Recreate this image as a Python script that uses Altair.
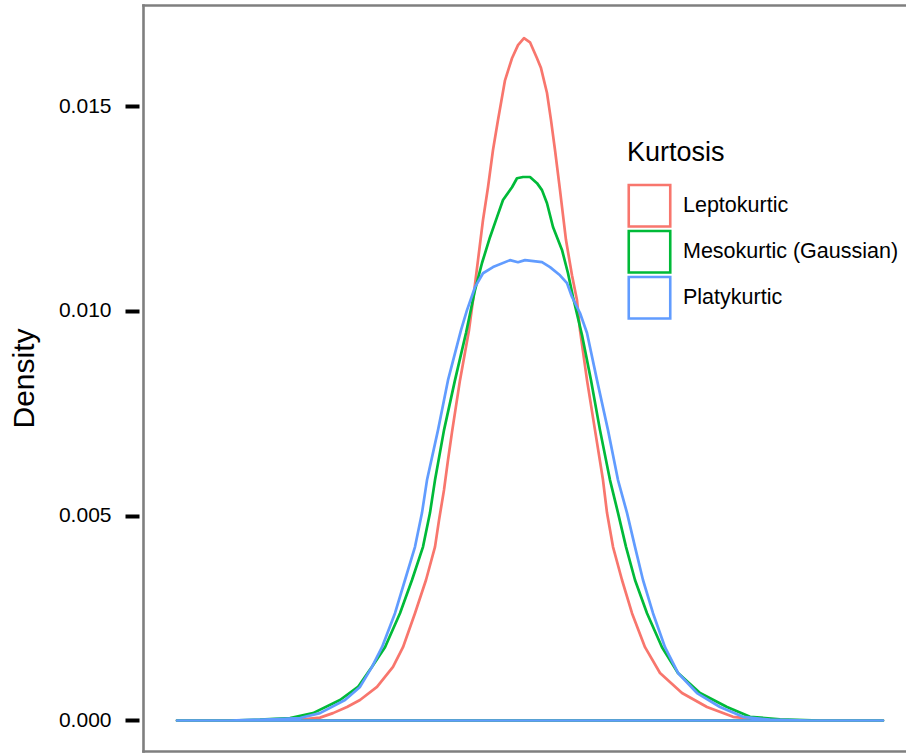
import altair as alt
import pandas as pd

series = ["Leptokurtic", "Mesokurtic (Gaussian)", "Platykurtic"]
colors = ["#F8766D", "#00BA38", "#619CFF"]
y_ticks = [0.0, 0.005, 0.010, 0.015]

lepto_x = [-347, -264, -224, -204, -191, -177, -164, -147, -131, -121,
           -109, -98, -89, -85, -80, -76, -72, -64, -55, -51,
           -46, -41, -36, -31, -26, -19, -12, -6, 0, 6,
           13, 17, 23, 27, 31, 36, 42, 48, 53, 56,
           63, 71, 79, 83, 89, 98, 108, 121, 136, 158,
           183, 209, 236, 276, 359]
lepto_y = [0, 0, 0.00002, 0.00007, 0.00018, 0.00033, 0.00050, 0.00082, 0.00131, 0.00179,
           0.00262, 0.00343, 0.00424, 0.00489, 0.00563, 0.00636, 0.00704, 0.00831, 0.00953, 0.01026,
           0.01124, 0.01222, 0.01302, 0.01393, 0.01466, 0.01563, 0.01617, 0.01649, 0.01666, 0.01656,
           0.01617, 0.01593, 0.01532, 0.01466, 0.01393, 0.01295, 0.01173, 0.01087, 0.01026, 0.00953,
           0.00831, 0.00709, 0.00587, 0.00507, 0.00424, 0.00343, 0.00262, 0.00179, 0.00116, 0.00067,
           0.00033, 0.00009, 0.00002, 0, 0]

meso_x = [-347, -294, -264, -234, -211, -184, -166, -152, -139, -124,
          -112, -101, -94, -89, -80, -69, -58, -49, -42, -34,
          -27, -21, -12, -7, -1, 6, 13, 18, 23, 29,
          38, 44, 49, 58, 67, 76, 86, 94, 102, 111,
          123, 138, 154, 176, 203, 226, 256, 296, 359]
meso_y = [0, 0, 0.00002, 0.00006, 0.00018, 0.00050, 0.00082, 0.00131, 0.00179, 0.00262,
          0.00343, 0.00424, 0.00507, 0.00587, 0.00709, 0.00831, 0.00946, 0.01051, 0.01117, 0.01180,
          0.01229, 0.01271, 0.01302, 0.01324, 0.01327, 0.01327, 0.01312, 0.01295, 0.01263, 0.01205,
          0.01149, 0.01092, 0.01034, 0.00941, 0.00831, 0.00709, 0.00587, 0.00507, 0.00424, 0.00343,
          0.00262, 0.00179, 0.00116, 0.00067, 0.00033, 0.00009, 0.00003, 0, 0]

platy_x = [-347, -294, -254, -224, -204, -179, -164, -152, -142, -129,
           -119, -109, -102, -97, -86, -76, -63, -57, -49, -41,
           -31, -14, -6, 1, 18, 26, 36, 43, 48, 56,
           63, 73, 84, 94, 103, 111, 119, 129, 141, 154,
           173, 196, 219, 246, 286, 359]
platy_y = [0, 0, 0.00003, 0.00006, 0.00018, 0.00050, 0.00082, 0.00131, 0.00179, 0.00262,
           0.00343, 0.00424, 0.00507, 0.00587, 0.00709, 0.00831, 0.00953, 0.01002, 0.01058, 0.01092,
           0.01107, 0.01124, 0.01119, 0.01124, 0.01119, 0.01107, 0.01087, 0.01068, 0.01034, 0.00995,
           0.00946, 0.00831, 0.00709, 0.00587, 0.00507, 0.00424, 0.00343, 0.00262, 0.00179, 0.00116,
           0.00067, 0.00033, 0.00009, 0.00002, 0, 0]

rows = []
for name, xs, ys in zip(series, [lepto_x, meso_x, platy_x], [lepto_y, meso_y, platy_y]):
    for xv, yv in zip(xs, ys):
        rows.append({"Kurtosis": name, "value": xv, "density": yv})
df = pd.DataFrame(rows)

FONT = "Liberation Sans"
GRAY = "#7f7f7f"

x_scale = alt.Scale(domain=[-381, 382], nice=False, zero=False)
y_scale = alt.Scale(domain=[-0.000745, 0.01747], nice=False, zero=False)

curves = alt.Chart(df).mark_area(
    fill="transparent", strokeWidth=2.7, interpolate="linear", strokeJoin="round"
).encode(
    x=alt.X("value:Q", scale=x_scale,
            axis=alt.Axis(orient="bottom", title=None, labels=False, ticks=False, grid=False,
                          domain=True, domainColor=GRAY, domainWidth=2.6, domainCap="square")),
    y=alt.Y("density:Q", scale=y_scale, stack=None,
            axis=alt.Axis(orient="left", title="Density", values=y_ticks, format=".3f",
                          grid=False, domain=False, ticks=True, tickSize=14, tickWidth=4,
                          tickColor="black", offset=4, labelFontSize=21, labelColor="black",
                          labelPadding=14, labelFont=FONT, titleFont=FONT, titleFontSize=30,
                          titleFontWeight="normal", titleColor="black", titlePadding=19)),
    stroke=alt.Stroke("Kurtosis:N", sort=series,
                      scale=alt.Scale(domain=series, range=colors),
                      legend=alt.Legend(orient="none", legendX=484, legendY=135, padding=0,
                                        title="Kurtosis", titleFontSize=27, titleFont=FONT,
                                        titleFontWeight="normal", titleColor="black",
                                        titlePadding=16, labelFontSize=21.5, labelFont=FONT,
                                        labelColor="black", labelOffset=11, labelLimit=0,
                                        symbolType="square", symbolSize=1722,
                                        symbolStrokeWidth=2.6, symbolFillColor="white",
                                        rowPadding=0, clipHeight=45.5)),
)

frame = alt.Chart(df).mark_line(opacity=0).encode(
    x=alt.X("value:Q", scale=x_scale,
            axis=alt.Axis(orient="top", title=None, labels=False, ticks=False, grid=False,
                          domain=True, domainColor=GRAY, domainWidth=2.6, domainCap="square")),
    y=alt.Y("density:Q", scale=y_scale,
            axis=alt.Axis(orient="left", title=None, labels=False, ticks=False, grid=False,
                          domain=True, domainColor=GRAY, domainWidth=2.6, domainCap="square")),
)

chart = alt.layer(curves, frame).resolve_axis(
    x="independent", y="independent"
).properties(
    width=763, height=746,
    autosize=alt.AutoSizeParams(type="none"),
    padding={"left": 143, "top": 5, "right": 0, "bottom": 3},
).configure(font=FONT).configure_view(stroke=None)

chart.save("out.html", embed_options={"renderer": "svg", "actions": False})
